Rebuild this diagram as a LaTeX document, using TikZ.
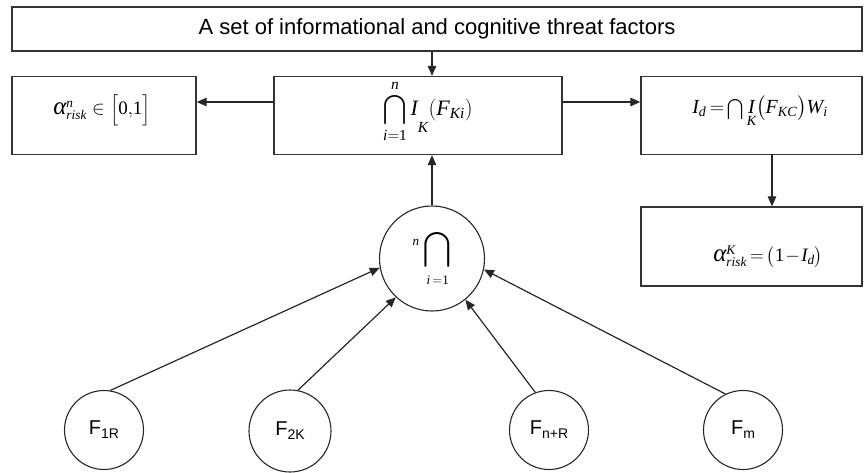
\RequirePackage{fix-cm}
\documentclass[tikz,border=0pt]{standalone}
\usepackage{amsmath}
\usepackage{fontspec}
\setmainfont{Liberation Serif}
\newfontfamily\arialfont{Liberation Sans}
\usetikzlibrary{arrows.meta}

% subscript for the factor labels
\newcommand{\fsub}[1]{\raisebox{-4pt}{\fontsize{14}{16}\selectfont #1}}
% large italic alpha
\newcommand{\alf}{\mbox{\fontsize{25}{28}\selectfont\itshape α}}
% enlarged intersection sign
\newcommand{\bigcapof}[1]{\mathop{\mbox{\fontsize{#1}{#1}\selectfont$\displaystyle\bigcap$}}}

\tikzset{
  box/.style={draw=black!80, line width=1.3pt, rectangle, inner sep=0pt},
  fml/.style={inner sep=0pt, text=black},
  fcirc/.style={draw=black!85, line width=1.1pt, circle, minimum size=79pt, inner sep=0pt,
                font=\arialfont\fontsize{20}{24}\selectfont},
  ucirc/.style={draw=black!85, line width=1.1pt, circle, minimum size=105pt, inner sep=0pt},
  arr/.style={draw=black!85, line width=1.2pt, -{Triangle[length=10pt,width=8.5pt]}}
}

\begin{document}
\begin{tikzpicture}[x=1pt,y=-1pt]
\useasboundingbox (0,0) rectangle (864,473);

% header box
\node[box, minimum width=850pt, minimum height=44pt,
      font=\arialfont\fontsize{22}{26}\selectfont] (top) at (437,29)
      {A set of informational and cognitive threat factors};

% row of three boxes
\node[box, minimum width=184pt, minimum height=78pt] (lbox) at (104,115.5) {};
\node[box, minimum width=288pt, minimum height=78pt] (mbox) at (418,115.5) {};
\node[box, minimum width=221pt, minimum height=78pt] (rbox) at (751.5,115.5) {};
\node[box, minimum width=221pt, minimum height=79pt] (dbox) at (751.5,246.5) {};

% formulas inside the boxes
\node[fml, font=\fontsize{19}{22}\selectfont] (ltext) at (102,110)
  {$\alf^{\mathit{n}}_{\mathit{risk}} \in \Bigl[\mathrm{0{,}1}\Bigr]$};
\node[fml, font=\fontsize{22}{26}\selectfont] (mtext) at (428,111)
  {$\bigcapof{21}\limits_{\mathit{i}=\mathrm{1}}^{\mathit{n}}\mathit{I}_{\raisebox{-14pt}{$\scriptstyle\mathit{K}$}}(\mathit{F}_{\mathit{Ki}})$};
\node[fml, font=\fontsize{20}{24}\selectfont] (rtext) at (760,112)
  {$\thickmuskip=3mu\mathit{I}_{\mathit{d}} = \bigcapof{15}\underset{\mathit{K}}{\mathit{I}}\bigl(\mathit{F}_{\mathit{KC}}\bigr)\mathit{W}_{\mathit{i}}$};
\node[fml, font=\fontsize{19}{23}\selectfont] (dtext) at (768,257)
  {$\medmuskip=1mu\thickmuskip=3mu\alf^{\mathit{K}}_{\mathit{risk}} = \bigl(\mathrm{1}-\mathit{I}_{\mathit{d}}\bigr)$};

% union node and factor nodes
\node[ucirc, font=\fontsize{26}{30}\selectfont] (u) at (432,258.5)
  {$\displaystyle{}^{\scriptscriptstyle\mathit{n}}\bigcap_{\scriptscriptstyle\mathit{i}\,=\mathrm{1}}$};
\node[fcirc] (f1) at (104,430) {F\fsub{1R}};
\node[fcirc, minimum size=82pt] (f2) at (290,431) {F\fsub{2K}};
\node[fcirc] (f3) at (549,430) {F\fsub{n+R}};
\node[fcirc] (f4) at (743,430) {F\fsub{m}};

% helper coordinates for the connector lines
\coordinate (rowA) at (0,102);
\coordinate (colR) at (772,0);

% connectors
\draw[arr] (top.south -| u) -- (mbox.north -| u);
\draw[arr] (mbox.west |- rowA) -- (lbox.east |- rowA);
\draw[arr] (mbox.east |- rowA) -- (rbox.west |- rowA);
\draw[arr] (rbox.south -| colR) -- (dbox.north -| colR);
\draw[arr] (u.north) -- (mbox.south -| u);
\draw[arr] (f1.81) -- (u.190);
\draw[arr] (f2.79) -- (u.227);
\draw[arr] (f3.110) -- (u.309);
\draw[arr] (f4.116) -- (u.348);
\end{tikzpicture}
\end{document}
